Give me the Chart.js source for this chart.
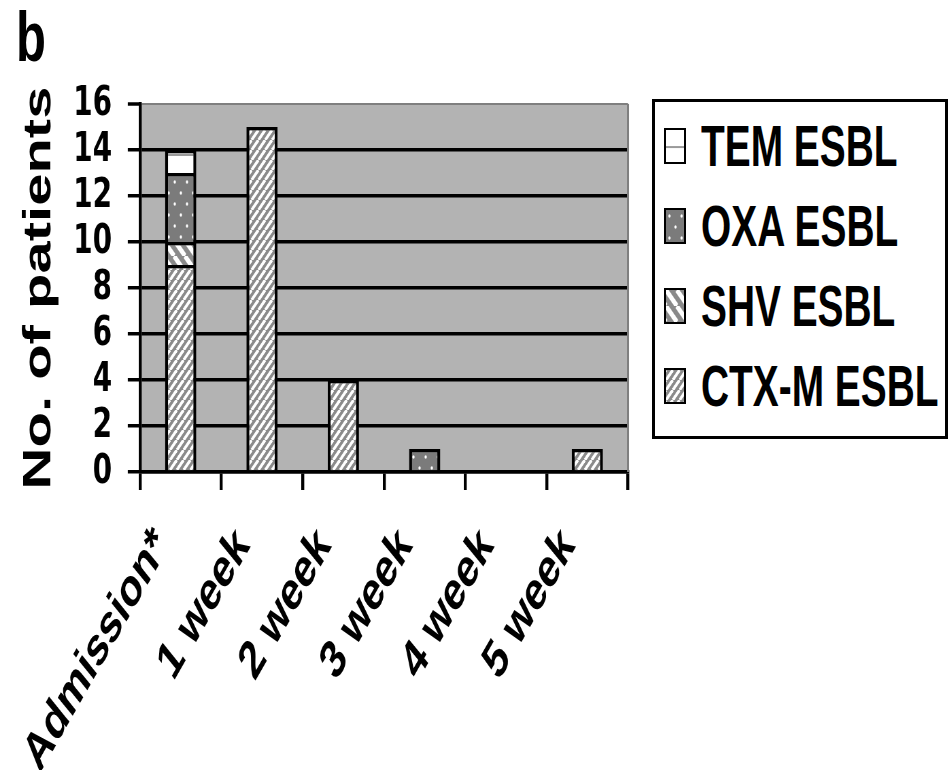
<!DOCTYPE html>
<html>
<head>
<meta charset="utf-8">
<script src="https://cdn.jsdelivr.net/npm/chart.js@4.4.0/dist/chart.umd.min.js"></script>
<style>
  body { margin: 0; width: 950px; height: 770px; overflow: hidden; position: relative; background: #fff;
         font-family: "Liberation Sans", Arial, sans-serif; }
  /* the source figure is squeezed horizontally, so the chart is drawn wide and scaled */
  #wrap { position: absolute; left: 0; top: 0; width: 941px; height: 770px;
          transform: scaleX(0.68); transform-origin: 0 0; }
  #panel { position: absolute; left: 16px; top: 2px; font-weight: bold; font-size: 70px; line-height: 70px;
           transform: scaleX(0.7); transform-origin: 0 0; }
  #legend { position: absolute; left: 652px; top: 99px; width: 296px; height: 340px;
            border: 3px solid #000; box-sizing: border-box; }
  #legend .sw { position: absolute; left: 9px; width: 22px; height: 36px; border: 2px solid #000; box-sizing: border-box; }
  #legend .txt { position: absolute; left: 46px; font-weight: bold; font-size: 58px; line-height: 58px;
                 white-space: nowrap; transform: scaleX(0.67); transform-origin: 0 0; }
</style>
</head>
<body>
<div id="panel">b</div>
<div id="wrap"><canvas id="barChart"></canvas></div>
<div id="legend"></div>
<script>
'use strict';

// data
const categories = ['Admission*', '1 week', '2 week', '3 week', '4 week', '5 week'];
const ctxmValues = [9, 15, 4, 0, 0, 1];
const shvValues = [1, 0, 0, 0, 0, 0];
const oxaValues = [3, 0, 0, 1, 0, 0];
const temValues = [1, 0, 0, 0, 0, 0];
const seriesNames = ['CTX-M ESBL', 'SHV ESBL', 'OXA ESBL', 'TEM ESBL'];
const yMin = 0, yMax = 16, yStep = 2;

const SX = 0.68;      // horizontal squeeze of the figure
const W = 941;        // width of the chart before squeeze

// fill patterns
function tile(w, h, paint) {
    const c = document.createElement('canvas');
    c.width = w; c.height = h;
    paint(c.getContext('2d'), w, h);
    return c;
}
function diagonal(size, width, bg, fg, back) {
    return tile(size, size, (g, w, h) => {
        g.fillStyle = bg;
        g.fillRect(0, 0, w, h);
        g.strokeStyle = fg;
        g.lineWidth = width;
        for (let k = -1; k <= 1; k++) {
            g.beginPath();
            if (back) { g.moveTo(k * w, 0); g.lineTo(k * w + w, h); }
            else { g.moveTo(k * w, h); g.lineTo(k * w + w, 0); }
            g.stroke();
        }
    });
}
const tiles = {
    'CTX-M ESBL': diagonal(10, 3.6, '#8a8a8a', '#ffffff', false),
    'SHV ESBL': diagonal(16, 5.5, '#8a8a8a', '#ffffff', true),
    'OXA ESBL': tile(18, 22, (g, w, h) => {
        g.fillStyle = '#7b7b7b';
        g.fillRect(0, 0, w, h);
        g.fillStyle = '#ffffff';
        g.beginPath(); g.arc(5, 6, 1.7, 0, Math.PI * 2); g.fill();
        g.beginPath(); g.arc(14, 17, 1.7, 0, Math.PI * 2); g.fill();
    }),
    'TEM ESBL': tile(8, 23, (g, w, h) => {
        g.fillStyle = '#ffffff';
        g.fillRect(0, 0, w, h);
        g.fillStyle = '#9a9a9a';
        g.fillRect(0, 16, w, 2);
    })
};

const canvas = document.getElementById('barChart');
const ctx = canvas.getContext('2d');
const seriesValues = [ctxmValues, shvValues, oxaValues, temValues];

const datasets = seriesNames.map((name, i) => ({
    label: name,
    data: seriesValues[i],
    backgroundColor: ctx.createPattern(tiles[name], 'repeat'),
    borderColor: '#000',
    borderWidth: { top: 3.5, left: 4.4, right: 4.4, bottom: 0 },
    barPercentage: 0.384,
    categoryPercentage: 1
}));

// html legend, top entry is the top of the stack
const legendBox = document.getElementById('legend');
seriesNames.slice().reverse().forEach((name, i) => {
    const sw = document.createElement('div');
    sw.className = 'sw';
    sw.style.top = (26 + i * 80) + 'px';
    const t = tiles[name];
    sw.style.backgroundImage = 'url(' + t.toDataURL() + ')';
    sw.style.backgroundSize = (t.width * SX) + 'px ' + t.height + 'px';
    legendBox.appendChild(sw);
    const tx = document.createElement('div');
    tx.className = 'txt';
    tx.style.top = (15 + i * 80) + 'px';
    tx.textContent = name;
    legendBox.appendChild(tx);
});

const plotFrame = {
    id: 'plotFrame',
    beforeDraw(chart) {
        const { ctx, chartArea: a } = chart;
        ctx.save();
        ctx.fillStyle = '#b3b3b3';
        ctx.fillRect(a.left, a.top, a.right - a.left, a.bottom - a.top);
        ctx.restore();
    },
    afterDatasetsDraw(chart) {
        const { ctx, chartArea: a } = chart;
        ctx.save();
        ctx.strokeStyle = '#7f7f7f';
        ctx.lineWidth = 3;
        ctx.beginPath();
        ctx.moveTo(a.right, a.top);
        ctx.lineTo(a.right, a.bottom);
        ctx.stroke();
        ctx.restore();
    }
};

new Chart(canvas, {
    type: 'bar',
    data: { labels: categories, datasets: datasets },
    options: {
        responsive: true,
        maintainAspectRatio: false,
        animation: false,
        layout: { padding: { top: 104, right: W - 628 / SX, left: 0, bottom: 0 } },
        plugins: {
            legend: { display: false },
            tooltip: { enabled: false }
        },
        scales: {
            x: {
                stacked: true,
                afterFit: (scale) => { scale.height = 770 - 472; },
                border: { color: '#000', width: 3.5 },
                grid: { drawOnChartArea: false, offset: true, color: '#000', tickColor: '#000',
                        tickLength: 18, tickWidth: 4.4, lineWidth: 4.4 },
                ticks: {
                    color: '#000',
                    autoSkip: false,
                    minRotation: 50,
                    maxRotation: 50,
                    padding: 26,
                    labelOffset: -28,
                    font: { family: '"Liberation Sans", Arial', size: 54, weight: 'bold' }
                }
            },
            y: {
                stacked: true,
                min: yMin,
                max: yMax,
                afterFit: (scale) => { scale.width = 140 / SX; },
                border: { color: '#000', width: 4.4 },
                grid: {
                    color: (c) => c.tick && c.tick.value === yMax ? '#7f7f7f' : '#000',
                    lineWidth: (c) => c.tick && c.tick.value === yMax ? 2 : 3.5,
                    tickColor: '#000',
                    tickLength: 18,
                    tickWidth: 3.5
                },
                ticks: {
                    stepSize: yStep,
                    autoSkip: false,
                    color: '#000',
                    padding: 23,
                    font: { family: '"DejaVu Sans"', size: 41, weight: 'bold' }
                },
                title: {
                    display: true,
                    text: 'No. of patients',
                    color: '#000',
                    padding: { top: 23, bottom: 0 },
                    font: { family: '"Liberation Sans", Arial', size: 58, weight: 'bold' }
                }
            }
        }
    },
    plugins: [plotFrame]
});
</script>
</body>
</html>
